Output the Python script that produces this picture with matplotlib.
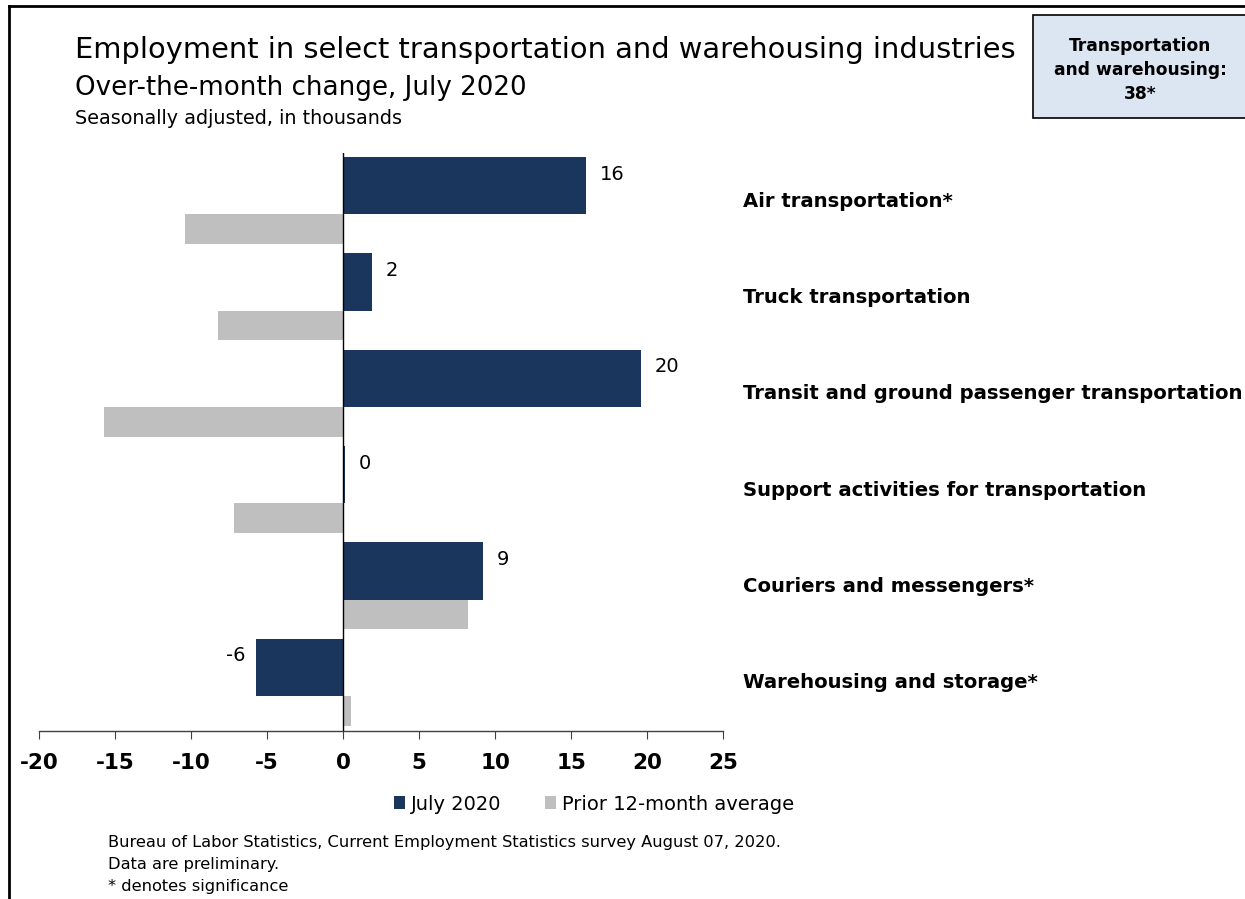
import matplotlib
matplotlib.use("Agg")
import matplotlib.pyplot as plt
from matplotlib.patches import Rectangle, Patch
from matplotlib.lines import Line2D
import numpy as np

categories = [
    "Air transportation*",
    "Truck transportation",
    "Transit and ground passenger transportation",
    "Support activities for transportation",
    "Couriers and messengers*",
    "Warehousing and storage*",
]
july_2020 = [16.0, 1.9, 19.6, 0.1, 9.2, -5.7]
july_labels = ["16", "2", "20", "0", "9", "-6"]
prior_avg = [-10.4, -8.2, -15.7, -7.2, 8.2, 0.55]
x_ticks = [-20, -15, -10, -5, 0, 5, 10, 15, 20, 25]

NAVY = "#1B365D"
GRAY = "#BFBFBF"
FONT = "DejaVu Sans"

W, H = 1245, 899
fig = plt.figure(figsize=(W / 100, H / 100), dpi=100)
fig.patch.set_facecolor("white")

def fx(px):
    return px / W

def fy(py):
    return 1 - py / H

ax = fig.add_axes([fx(39), fy(731), fx(723) - fx(39), fy(153) - fy(731)])
y = np.arange(len(categories))

ax.barh(y - 0.16, july_2020, height=0.595, color=NAVY, zorder=2)
ax.barh(y + 0.29, prior_avg, height=0.31, color=GRAY, zorder=2)

for yi, v, lab in zip(y, july_2020, july_labels):
    if v >= 0:
        ax.annotate(lab, (max(v, 0), yi - 0.28), xytext=(10, 0), textcoords="offset points",
                    ha="left", va="center", fontsize=14, family=FONT, color="black")
    else:
        ax.annotate(lab, (v, yi - 0.28), xytext=(-8, 0), textcoords="offset points",
                    ha="right", va="center", fontsize=14, family=FONT, color="black")

ax.set_xlim(-20, 25)
ax.set_ylim(5.5, -0.5)
ax.set_xticks(x_ticks)
ax.set_xticklabels([str(t) for t in x_ticks], fontsize=15.5, fontweight="bold", family=FONT)
ax.set_yticks([])
for s in ["top", "right", "left"]:
    ax.spines[s].set_visible(False)
ax.spines["bottom"].set_color("#404040")
ax.spines["bottom"].set_linewidth(1.0)
ax.tick_params(axis="x", direction="out", length=6, color="#404040", pad=10)
ax.axvline(0, color="black", linewidth=1.0, zorder=3)

# category labels on the right
for yi, cat in zip(y, categories):
    ax.text(1.0 + (743 - 723) / (723 - 39), yi, cat, transform=ax.get_yaxis_transform(),
            ha="left", va="center", fontsize=14.1, fontweight="bold", family=FONT, clip_on=False)

# titles
fig.text(fx(75), fy(50), "Employment in select transportation and warehousing industries",
         fontsize=20.8, family=FONT, va="center", ha="left")
fig.text(fx(75), fy(88), "Over-the-month change, July 2020",
         fontsize=18.8, family=FONT, va="center", ha="left")
fig.text(fx(75), fy(118), "Seasonally adjusted, in thousands",
         fontsize=13.8, family=FONT, va="center", ha="left")

# total box
box = Rectangle((fx(1033), fy(118)), fx(1250) - fx(1033), fy(15) - fy(118),
                transform=fig.transFigure, facecolor="#DCE6F2", edgecolor="black",
                linewidth=1.2, clip_on=False)
fig.patches.append(box)
fig.text(fx(1140), fy(70), "Transportation\nand warehousing:\n38*", fontsize=12.3,
         fontweight="bold", family=FONT, ha="center", va="center", linespacing=1.45)

# frame lines (top & left)
fig.lines.append(Line2D([fx(9), 1.0], [fy(6), fy(6)], transform=fig.transFigure,
                        color="black", linewidth=2))
fig.lines.append(Line2D([fx(9), fx(9)], [fy(6), 0], transform=fig.transFigure,
                        color="black", linewidth=2))

# legend
handles = [Patch(facecolor=NAVY, label="July 2020"),
           Patch(facecolor=GRAY, label="Prior 12-month average")]
fig.legend(handles=handles, loc="center", bbox_to_anchor=(fx(594), fy(804)), ncol=2,
           frameon=False, prop={"family": FONT, "size": 14}, handlelength=0.6,
           handleheight=0.6, handletextpad=0.3, columnspacing=2.2)

# footnote
fig.text(fx(108), fy(843), "Bureau of Labor Statistics, Current Employment Statistics survey August 07, 2020.",
         fontsize=11.7, family=FONT, va="center", ha="left")
fig.text(fx(108), fy(865), "Data are preliminary.", fontsize=11.7, family=FONT, va="center", ha="left")
fig.text(fx(108), fy(886), "* denotes significance", fontsize=11.7, family=FONT, va="center", ha="left")

fig.savefig("out.png", dpi=100)
